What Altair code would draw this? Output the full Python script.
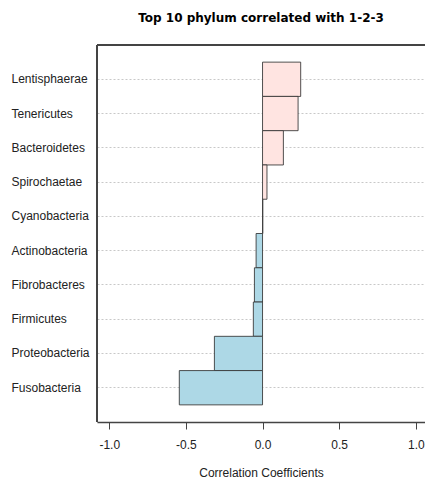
import altair as alt
import pandas as pd

phyla = ["Lentisphaerae", "Tenericutes", "Bacteroidetes", "Spirochaetae", "Cyanobacteria",
         "Actinobacteria", "Fibrobacteres", "Firmicutes", "Proteobacteria", "Fusobacteria"]
coefs = [0.249, 0.232, 0.136, 0.029, 0.002, -0.042, -0.053, -0.060, -0.314, -0.543]
x_ticks = [-1.0, -0.5, 0.0, 0.5, 1.0]

df = pd.DataFrame({"phylum": phyla, "coef": coefs})

W, H = 328, 377
FONT = "Liberation Sans"

y_enc = alt.Y("phylum:N", sort=phyla,
              scale=alt.Scale(paddingInner=0, paddingOuter=0.5),
              axis=alt.Axis(title=None, ticks=False, domain=False, labelAlign="left",
                            labelPadding=86, labelFont=FONT, labelFontSize=12,
                            labelColor="#222222", grid=True, gridDash=[2, 2],
                            gridColor="#c8c8c8", gridWidth=1))

x_enc = alt.X("coef:Q",
              scale=alt.Scale(domain=[-1.08, 1.06], nice=False, zero=True),
              axis=alt.Axis(title="Correlation Coefficients", values=x_ticks,
                            labelExpr="(datum.value < 0 ? '-' : '') + format(abs(datum.value), '.1f')",
                            grid=False, domain=True, domainColor="#444444", domainWidth=1.5,
                            ticks=True, tickColor="#444444", tickSize=7, tickWidth=1,
                            labelFont=FONT, labelFontSize=12, labelColor="#222222",
                            labelPadding=10, titleFont=FONT, titleFontSize=12,
                            titleFontWeight="normal", titleColor="#222222", titlePadding=17))

bars = alt.Chart(df).mark_bar(stroke="#333333", strokeWidth=1, strokeOpacity=0.85).encode(
    x=x_enc,
    y=y_enc,
    color=alt.condition("datum.coef >= 0", alt.value("#FFE4E1"), alt.value("#ADD8E6")),
)

top_rule = alt.Chart(df).mark_rule(color="#444444", strokeWidth=1.5).encode(
    x=alt.value(0), x2=alt.value(W), y=alt.value(0))
left_rule = alt.Chart(df).mark_rule(color="#444444", strokeWidth=1.5).encode(
    x=alt.value(0), y=alt.value(0), y2=alt.value(H))

chart = alt.layer(bars, top_rule, left_rule).properties(
    width=W, height=H,
    title=alt.TitleParams("Top 10 phylum correlated with 1-2-3", font="DejaVu Sans",
                          fontSize=12, fontWeight="bold", color="#000000",
                          anchor="middle", frame="group", offset=19),
    autosize=alt.AutoSizeParams(type="none"),
    padding={"left": 97, "top": 45, "right": 0, "bottom": 57},
).configure_view(stroke=None).configure(background="white")

chart.save("out.html", embed_options={"renderer": "svg", "actions": False})
